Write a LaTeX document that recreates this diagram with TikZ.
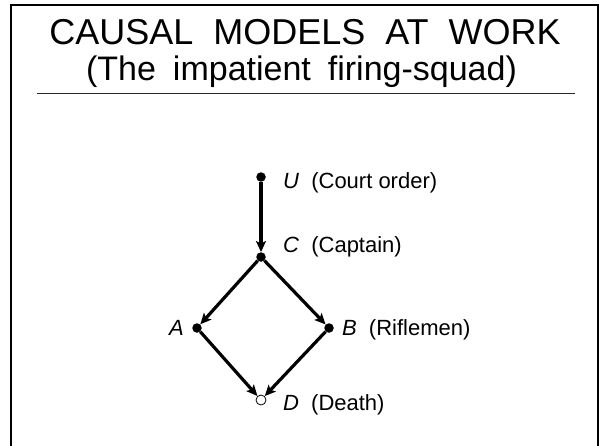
\documentclass[tikz,border=0pt]{standalone}
\usepackage{fontspec}
\setmainfont{Liberation Sans}
\usetikzlibrary{arrows.meta,positioning}

\begin{document}
\begin{tikzpicture}[x=1pt,y=-1pt,
  ttl/.style={anchor=base,inner sep=0pt,font=\fontsize{36}{40}\selectfont},
  sub/.style={anchor=base,inner sep=0pt,font=\fontsize{34}{38}\selectfont},
  dot/.style={circle,fill=black,inner sep=0pt,minimum size=9.5pt},
  odot/.style={circle,draw=black,fill=white,line width=0.8pt,inner sep=0pt,minimum size=10pt},
  lbl/.style={anchor=base west,inner sep=0pt,font=\fontsize{22}{25}\selectfont},
  arr/.style={-{Stealth[length=11pt,width=10pt,inset=2.5pt]},line width=3.2pt}
]
\useasboundingbox (0,0) rectangle (600,445);
% frame and header
\draw[line width=2pt] (11,446) -- (11,5) -- (598,5) -- (598,446);
\node[ttl] (title) at (305,44) {CAUSAL\ \ MODELS\ \ AT\ \ WORK};
\node[sub] (subtitle) at (301.5,80) {(The\hspace{0.5em}impatient\hspace{0.5em}firing-squad)};
\draw[line width=1pt,black!85] (37,93) -- (575,93);

% causal graph
\node[dot] (U) at (261,177) {};
\node[dot] (C) at (261,257) {};
\node[dot] (A) at (197,328) {};
\node[dot] (B) at (329,328) {};
\node[odot] (D) at (261,400) {};

\node[lbl] (Ulbl) at (283,188) {\textit{U}\hspace{0.55em}(Court order)};
\node[lbl] (Clbl) at (283,252) {\textit{C}\hspace{0.55em}(Captain)};
\node[lbl,anchor=base east] (Albl) at (184,335) {\textit{A}};
\node[lbl] (Blbl) at (342,335) {\textit{B}\hspace{0.55em}(Riflemen)};
\node[lbl] (Dlbl) at (283,410) {\textit{D}\hspace{0.55em}(Death)};

\draw[arr] (U) -- (C);
\draw[arr] (C) -- (A);
\draw[arr] (C) -- (B);
\draw[arr] (A) -- (D);
\draw[arr] (B) -- (D);
\end{tikzpicture}
\end{document}
